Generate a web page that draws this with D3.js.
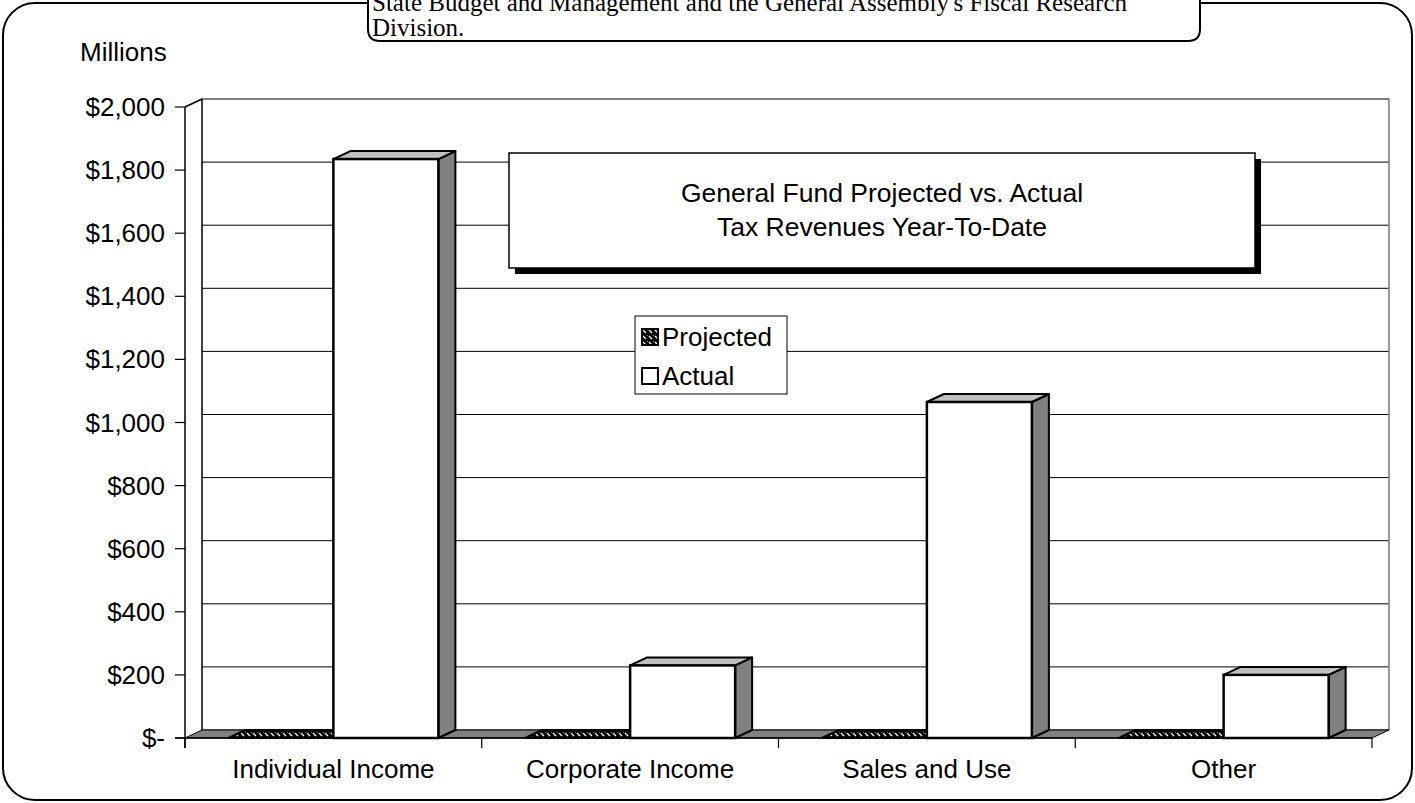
<!DOCTYPE html>
<html>
<head>
<meta charset="utf-8">
<script src="https://cdn.jsdelivr.net/npm/d3@7"></script>
<style>
body { margin: 0; background: #fff; }
svg { display: block; }
</style>
</head>
<body>
<script>
// chart data
var categories = ['Individual Income', 'Corporate Income', 'Sales and Use', 'Other'];
var seriesNames = ['Projected', 'Actual'];
var projected = [0, 0, 0, 0];
var actual = [1835, 230, 1065, 200];
var yTicks = [0, 200, 400, 600, 800, 1000, 1200, 1400, 1600, 1800, 2000];
var noteLines = ["State Budget and Management and the General Assembly's Fiscal Research", "Division."];
var titleLines = ['General Fund Projected vs. Actual', 'Tax Revenues Year-To-Date'];

var W = 1415, H = 803;
var font = "Arial, 'Liberation Sans', sans-serif";
var depth = {x: 17, y: -8};

var svg = d3.select('body').append('svg')
    .attr('width', W)
    .attr('height', H);

// hatch pattern for Projected
var defs = svg.append('defs');
var pat = defs.append('pattern')
    .attr('id', 'hatch')
    .attr('patternUnits', 'userSpaceOnUse')
    .attr('width', 6)
    .attr('height', 6);
pat.append('rect').attr('width', 6).attr('height', 6).attr('fill', '#000');
pat.append('path')
    .attr('d', 'M1,1 L4,4 M4,-2 L7,1')
    .attr('stroke', '#fff')
    .attr('stroke-width', 1.4);

// outer frame
svg.append('rect')
    .attr('x', 3).attr('y', 3)
    .attr('width', W - 6).attr('height', H - 6)
    .attr('rx', 32).attr('ry', 32)
    .attr('fill', '#fff')
    .attr('stroke', '#000')
    .attr('stroke-width', 2);

var x0 = d3.scaleBand()
    .domain(categories)
    .range([185, 1372]);

var x1 = d3.scaleBand()
    .domain(seriesNames)
    .range([0, x0.bandwidth()])
    .paddingOuter(0.413);

var y = d3.scaleLinear()
    .domain([0, 2000])
    .range([738, 107]);

var wall = svg.append('g');

// back wall gridlines
wall.selectAll('.grid')
    .data(yTicks)
    .enter()
    .append('line')
    .attr('x1', 185 + depth.x)
    .attr('x2', 1372 + depth.x)
    .attr('y1', function (d) { return y(d) + depth.y; })
    .attr('y2', function (d) { return y(d) + depth.y; })
    .attr('stroke', '#000')
    .attr('stroke-width', 1);

wall.append('line')
    .attr('x1', 185 + depth.x).attr('x2', 185 + depth.x)
    .attr('y1', y(2000) + depth.y).attr('y2', y(0) + depth.y)
    .attr('stroke', '#000').attr('stroke-width', 1.5);
wall.append('line')
    .attr('x1', 1372 + depth.x).attr('x2', 1372 + depth.x)
    .attr('y1', y(2000) + depth.y).attr('y2', y(0) + depth.y)
    .attr('stroke', '#777').attr('stroke-width', 1.5);
wall.append('line')
    .attr('x1', 185).attr('x2', 185 + depth.x)
    .attr('y1', y(2000)).attr('y2', y(2000) + depth.y)
    .attr('stroke', '#000').attr('stroke-width', 1.5);

// floor
wall.append('path')
    .attr('d', 'M185,' + y(0) + 'L' + (185 + depth.x) + ',' + (y(0) + depth.y) +
        'L' + (1372 + depth.x) + ',' + (y(0) + depth.y) + 'L1372,' + y(0) + 'Z')
    .attr('fill', '#808080')
    .attr('stroke', '#000')
    .attr('stroke-width', 1);

// y axis
var yAxis = svg.append('g');
yAxis.append('line')
    .attr('x1', 185).attr('x2', 185)
    .attr('y1', y(2000)).attr('y2', y(0) + 10)
    .attr('stroke', '#000').attr('stroke-width', 1.5);
yAxis.selectAll('.tick')
    .data(yTicks)
    .enter()
    .append('line')
    .attr('x1', 175).attr('x2', 185)
    .attr('y1', function (d) { return y(d); })
    .attr('y2', function (d) { return y(d); })
    .attr('stroke', '#000').attr('stroke-width', 1.2);
yAxis.selectAll('.lbl')
    .data(yTicks)
    .enter()
    .append('text')
    .attr('x', 165)
    .attr('y', function (d) { return y(d) + 9; })
    .attr('text-anchor', 'end')
    .attr('font-family', font)
    .attr('font-size', 26)
    .text(function (d) {
        return d === 0 ? '$-' : '$' + d3.format(',')(d);
    });

svg.append('text')
    .attr('x', 80).attr('y', 61)
    .attr('font-family', font)
    .attr('font-size', 26)
    .text('Millions');

// x axis
var xAxis = svg.append('g');
xAxis.append('line')
    .attr('x1', 175).attr('x2', 1372)
    .attr('y1', y(0)).attr('y2', y(0))
    .attr('stroke', '#000').attr('stroke-width', 1.5);
var xTicks = categories.map(function (c) { return x0(c); }).concat([x0.range()[1]]);
xAxis.selectAll('.xt')
    .data(xTicks)
    .enter()
    .append('line')
    .attr('x1', function (d) { return d; })
    .attr('x2', function (d) { return d; })
    .attr('y1', y(0)).attr('y2', y(0) + 10)
    .attr('stroke', '#000').attr('stroke-width', 1.2);
xAxis.selectAll('.xl')
    .data(categories)
    .enter()
    .append('text')
    .attr('x', function (d) { return x0(d) + x0.bandwidth() / 2; })
    .attr('y', 778)
    .attr('text-anchor', 'middle')
    .attr('font-family', font)
    .attr('font-size', 26)
    .text(function (d) { return d; });

// bars
var bars = [];
categories.forEach(function (c, i) {
    bars.push({cat: c, series: 'Projected', value: projected[i]});
    bars.push({cat: c, series: 'Actual', value: actual[i]});
});

var barG = svg.append('g').selectAll('.bar')
    .data(bars)
    .enter()
    .append('g');

function facePts(pts) {
    return pts.map(function (p) { return p.join(','); }).join(' ');
}

barG.each(function (d) {
    var g = d3.select(this);
    var bx = x0(d.cat) + x1(d.series);
    var bw = x1.bandwidth();
    var yt = y(d.value), yb = y(0);
    var dx = depth.x, dy = depth.y;
    var hatched = d.series === 'Projected';
    // side
    g.append('polygon')
        .attr('points', facePts([[bx + bw, yt], [bx + bw + dx, yt + dy], [bx + bw + dx, yb + dy], [bx + bw, yb]]))
        .attr('fill', hatched ? 'url(#hatch)' : '#808080')
        .attr('stroke', '#000').attr('stroke-width', 2)
        .attr('stroke-linejoin', 'round');
    // top
    g.append('polygon')
        .attr('points', facePts([[bx, yt], [bx + dx, yt + dy], [bx + bw + dx, yt + dy], [bx + bw, yt]]))
        .attr('fill', hatched ? 'url(#hatch)' : '#c0c0c0')
        .attr('stroke', '#000').attr('stroke-width', 2)
        .attr('stroke-linejoin', 'round');
    // front
    g.append('rect')
        .attr('x', bx).attr('y', yt)
        .attr('width', bw).attr('height', yb - yt)
        .attr('fill', hatched ? 'url(#hatch)' : '#fff')
        .attr('stroke', '#000').attr('stroke-width', 2.5);
});

// title box
var tb = {x: 509, y: 153, w: 746, h: 115};
svg.append('rect')
    .attr('x', tb.x + 6).attr('y', tb.y + 6)
    .attr('width', tb.w).attr('height', tb.h)
    .attr('fill', '#000');
svg.append('rect')
    .attr('x', tb.x).attr('y', tb.y)
    .attr('width', tb.w).attr('height', tb.h)
    .attr('fill', '#fff')
    .attr('stroke', '#000').attr('stroke-width', 1.5);
svg.selectAll('.ttl')
    .data(titleLines)
    .enter()
    .append('text')
    .attr('x', tb.x + tb.w / 2)
    .attr('y', function (d, i) { return tb.y + 49 + i * 34; })
    .attr('text-anchor', 'middle')
    .attr('font-family', font)
    .attr('font-size', 26.5)
    .text(function (d) { return d; });

// legend
var lg = svg.append('g').attr('transform', 'translate(635,316)');
lg.append('rect')
    .attr('width', 152).attr('height', 78)
    .attr('fill', '#fff')
    .attr('stroke', '#000').attr('stroke-width', 1);
var li = lg.selectAll('.li')
    .data(seriesNames)
    .enter()
    .append('g')
    .attr('transform', function (d, i) { return 'translate(7,' + (13 + i * 39) + ')'; });
li.append('rect')
    .attr('width', 16).attr('height', 16)
    .attr('fill', function (d) { return d === 'Projected' ? 'url(#hatch)' : '#fff'; })
    .attr('stroke', '#000').attr('stroke-width', 2);
li.append('text')
    .attr('x', 20).attr('y', 17)
    .attr('font-family', font)
    .attr('font-size', 26)
    .text(function (d) { return d; });

// source note box at the top, partly cut off as in the original
var nb = {x1: 368, x2: 1200, bottom: 41, r: 12};
svg.append('path')
    .attr('d', 'M' + nb.x1 + ',-5 L' + nb.x1 + ',' + (nb.bottom - nb.r) +
        ' Q' + nb.x1 + ',' + nb.bottom + ' ' + (nb.x1 + nb.r) + ',' + nb.bottom +
        ' L' + (nb.x2 - nb.r) + ',' + nb.bottom +
        ' Q' + nb.x2 + ',' + nb.bottom + ' ' + nb.x2 + ',' + (nb.bottom - nb.r) +
        ' L' + nb.x2 + ',-5 Z')
    .attr('fill', '#fff')
    .attr('stroke', '#000')
    .attr('stroke-width', 2);
svg.selectAll('.note')
    .data(noteLines)
    .enter()
    .append('text')
    .attr('x', nb.x1 + 4)
    .attr('y', function (d, i) { return 11 + i * 25; })
    .attr('font-family', "'Times New Roman', 'Liberation Serif', serif")
    .attr('font-size', 25)
    .text(function (d) { return d; });
</script>
</body>
</html>
